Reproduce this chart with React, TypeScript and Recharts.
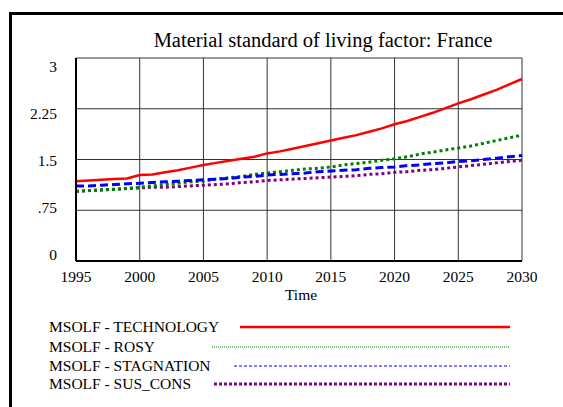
import React from 'react';
import { LineChart, Line, XAxis, YAxis, CartesianGrid } from 'recharts';

const years = [
  1995, 1996, 1997, 1998, 1999, 2000, 2001, 2002, 2003, 2004, 2005, 2006,
  2007, 2008, 2009, 2010, 2011, 2012, 2013, 2014, 2015, 2016, 2017, 2018,
  2019, 2020, 2021, 2022, 2023, 2024, 2025, 2026, 2027, 2028, 2029, 2030,
];

const technology = [
  1.18, 1.19, 1.2, 1.21, 1.22, 1.27, 1.28, 1.31, 1.34, 1.38, 1.42, 1.45,
  1.48, 1.51, 1.54, 1.59, 1.62, 1.66, 1.7, 1.74, 1.78, 1.82, 1.86, 1.91,
  1.96, 2.02, 2.07, 2.13, 2.19, 2.26, 2.33, 2.39, 2.46, 2.53, 2.61, 2.69,
];

const rosy = [
  1.03, 1.04, 1.05, 1.06, 1.07, 1.09, 1.11, 1.13, 1.15, 1.17, 1.18, 1.21,
  1.23, 1.25, 1.28, 1.3, 1.32, 1.34, 1.36, 1.37, 1.39, 1.42, 1.44, 1.46,
  1.49, 1.51, 1.54, 1.58, 1.61, 1.64, 1.67, 1.7, 1.74, 1.78, 1.82, 1.86,
];

const stagnation = [
  1.11, 1.11, 1.12, 1.13, 1.14, 1.15, 1.16, 1.17, 1.18, 1.19, 1.2, 1.21,
  1.22, 1.24, 1.25, 1.27, 1.28, 1.29, 1.3, 1.32, 1.33, 1.34, 1.35, 1.37,
  1.38, 1.39, 1.41, 1.42, 1.44, 1.45, 1.47, 1.48, 1.5, 1.52, 1.54, 1.56,
];

const susCons = [
  1.03, 1.04, 1.05, 1.06, 1.07, 1.08, 1.09, 1.09, 1.1, 1.11, 1.12, 1.13,
  1.14, 1.16, 1.17, 1.19, 1.2, 1.21, 1.22, 1.23, 1.24, 1.25, 1.26, 1.28,
  1.29, 1.31, 1.32, 1.34, 1.35, 1.37, 1.39, 1.41, 1.43, 1.45, 1.47, 1.49,
];

const xTicks = [1995, 2000, 2005, 2010, 2015, 2020, 2025, 2030];
const yTicks = [0, 0.75, 1.5, 2.25, 3];
const yTickLabels = ['0', '.75', '1.5', '2.25', '3'];

const seriesInfo = [
  { key: 'technology', name: 'MSOLF - TECHNOLOGY', color: '#ff0000' },
  { key: 'rosy', name: 'MSOLF - ROSY', color: '#008000' },
  { key: 'stagnation', name: 'MSOLF - STAGNATION', color: '#0000ff' },
  { key: 'susCons', name: 'MSOLF - SUS_CONS', color: '#800080' },
];

const data = years.map((year, i) => ({
  year,
  technology: technology[i],
  rosy: rosy[i],
  stagnation: stagnation[i],
  susCons: susCons[i],
}));

const FONT = '"Liberation Serif", "Times New Roman", serif';
const tickStyle = { fontFamily: FONT, fontSize: 15.5, fill: '#000' };

const YTick = (props: any) => {
  const { x, y, payload } = props;
  const idx = yTicks.indexOf(payload.value);
  // labels sit a little inward from the grid lines, like the original
  const shift = (1.5 - payload.value) * -5 + 1;
  return (
    <text x={x} y={y + shift} dy="0.35em" textAnchor="end" style={tickStyle}>
      {idx >= 0 ? yTickLabels[idx] : payload.value}
    </text>
  );
};

const XTick = (props: any) => {
  const { x, y, payload } = props;
  return (
    <text x={x} y={y} dy="0.75em" textAnchor="middle" style={tickStyle}>
      {payload.value}
    </text>
  );
};

const TimeLabel = (props: any) => {
  const { viewBox } = props;
  const cx = viewBox.x + viewBox.width / 2 + 2;
  return (
    <text x={cx} y={viewBox.y + 39} textAnchor="middle" style={{ fontFamily: FONT, fontSize: 15.5, fill: '#000' }}>
      Time
    </text>
  );
};

const legendRows = [
  { top: 318, lineStart: 240, width: 2.5, dash: undefined },
  { top: 338, lineStart: 212, width: 1, dash: '1 1' },
  { top: 357, lineStart: 234, width: 1, dash: '3 2' },
  { top: 375, lineStart: 214, width: 3, dash: '3 2' },
];

const ChartLegend = () => (
  <>
    {seriesInfo.map((s, i) => {
      const row = legendRows[i];
      return (
        <React.Fragment key={s.key}>
          <div
            style={{
              position: 'absolute',
              left: 49,
              top: row.top,
              fontFamily: FONT,
              fontSize: 15.5,
              lineHeight: '18px',
              color: '#000',
              whiteSpace: 'nowrap',
            }}
          >
            {s.name}
          </div>
          <svg
            style={{ position: 'absolute', left: row.lineStart, top: row.top }}
            width={510 - row.lineStart}
            height={18}
          >
            <line
              x1={0}
              x2={510 - row.lineStart}
              y1={9}
              y2={9}
              stroke={s.color}
              strokeWidth={row.width}
              strokeDasharray={row.dash}
            />
          </svg>
        </React.Fragment>
      );
    })}
  </>
);

export default function App() {
  return (
    <div style={{ position: 'absolute', left: 0, top: 0, width: 563, height: 407, background: '#fff', overflow: 'hidden' }}>
      <div
        style={{
          position: 'absolute',
          left: 9,
          top: 12,
          width: 600,
          height: 450,
          borderLeft: '3px solid #000',
          borderTop: '3px solid #000',
        }}
      />
      <div
        style={{
          position: 'absolute',
          left: 0,
          width: 646,
          top: 27,
          textAlign: 'center',
          fontFamily: FONT,
          fontSize: 20.5,
          lineHeight: '26px',
          color: '#000',
        }}
      >
        Material standard of living factor: France
      </div>
      <div style={{ position: 'absolute', left: 0, top: 0 }}>
        <LineChart
          width={563}
          height={407}
          data={data}
          margin={{ top: 58, right: 41, bottom: 104, left: 0 }}
        >
          <CartesianGrid stroke="#333" strokeWidth={1} horizontalValues={yTicks} verticalValues={xTicks} />
          <XAxis
            dataKey="year"
            type="number"
            domain={[1995, 2030]}
            ticks={xTicks}
            tickSize={0}
            tickMargin={9.5}
            height={42}
            axisLine={{ stroke: '#000', strokeWidth: 2 }}
            tick={<XTick />}
            label={<TimeLabel />}
          />
          <YAxis
            type="number"
            domain={[0, 3]}
            ticks={yTicks}
            width={76}
            tickSize={0}
            tickMargin={19}
            axisLine={{ stroke: '#000', strokeWidth: 2 }}
            tick={<YTick />}
          />
          <YAxis yAxisId="right" orientation="right" width={0} tick={false} axisLine={{ stroke: '#000', strokeWidth: 2 }} />
          <XAxis xAxisId="top" orientation="top" height={0} tick={false} axisLine={{ stroke: '#000', strokeWidth: 2 }} />
          <Line type="linear" dataKey="susCons" stroke="#800080" strokeWidth={3} strokeDasharray="3 3" dot={false} isAnimationActive={false} />
          <Line type="linear" dataKey="rosy" stroke="#008000" strokeWidth={3} strokeDasharray="3 3" dot={false} isAnimationActive={false} />
          <Line type="linear" dataKey="stagnation" stroke="#0000ff" strokeWidth={3} strokeDasharray="8 4" dot={false} isAnimationActive={false} />
          <Line type="linear" dataKey="technology" stroke="#ff0000" strokeWidth={2.5} dot={false} isAnimationActive={false} />
        </LineChart>
      </div>
      <ChartLegend />
    </div>
  );
}
